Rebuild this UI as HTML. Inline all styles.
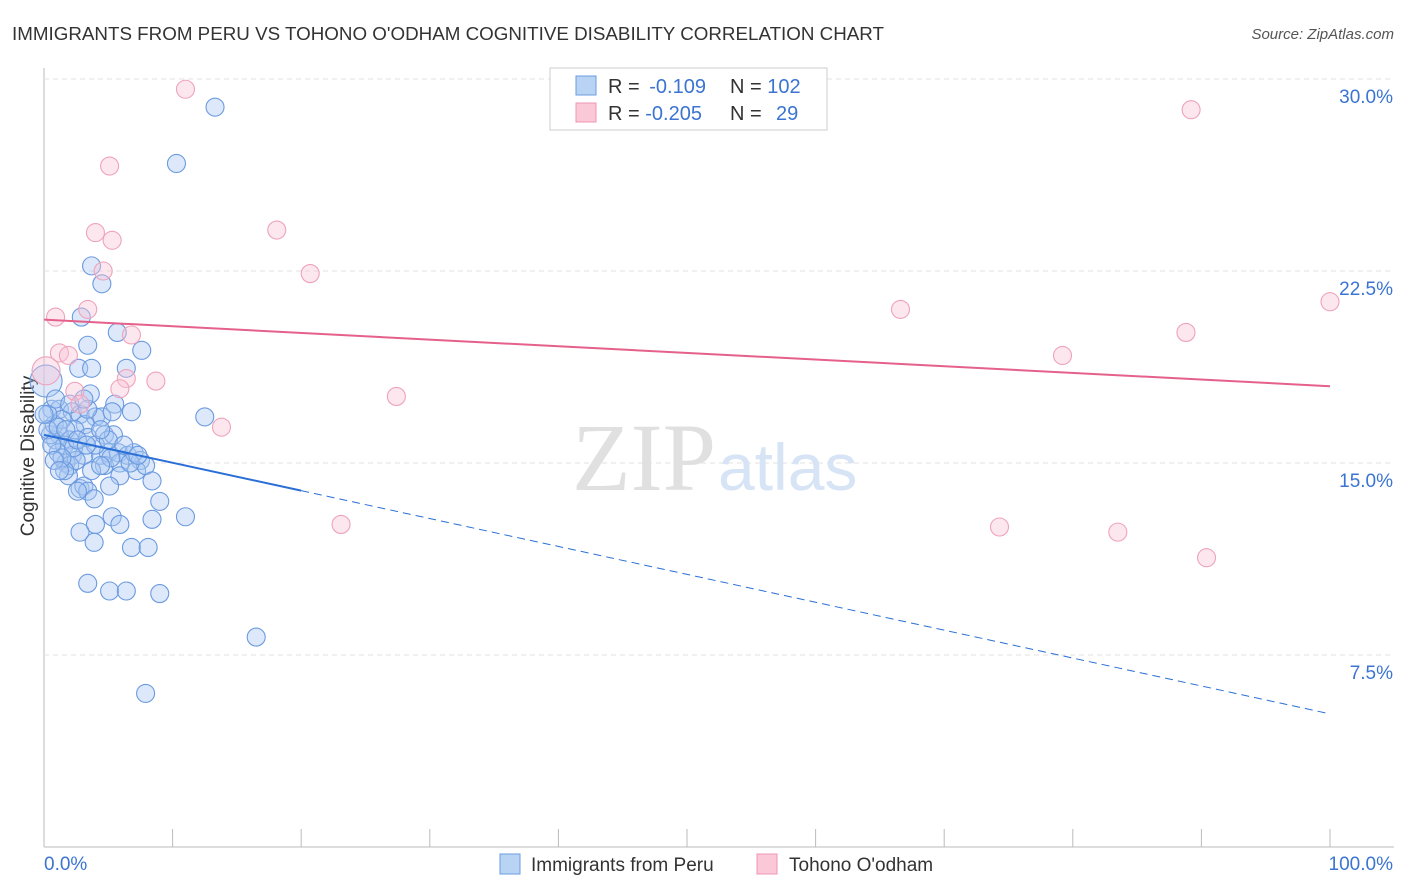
<!DOCTYPE html>
<html><head><meta charset="utf-8"><style>
body{margin:0;background:#fff;font-family:"Liberation Sans",sans-serif}
svg{display:block}
</style></head><body>
<svg id="chart" width="1406" height="892">
<text x="12" y="40" font-size="18" fill="#333" textLength="872" lengthAdjust="spacingAndGlyphs">IMMIGRANTS FROM PERU VS TOHONO O'ODHAM COGNITIVE DISABILITY CORRELATION CHART</text>
<text x="1394" y="39" font-size="15" fill="#555" text-anchor="end" font-style="italic">Source: ZipAtlas.com</text>
<text x="34" y="456" font-size="19" fill="#333" text-anchor="middle" transform="rotate(-90 34 456)">Cognitive Disability</text>
<g id="grid"></g>
<text x="716" y="490" font-size="96" fill="#e0e0e0" text-anchor="end" font-family="Liberation Serif,serif">ZIP</text>
<text x="718" y="490" font-size="66" fill="#d6e4f6">atlas</text>
<g id="marks"></g>
<g>
<rect x="550" y="68" width="277" height="62" fill="#fff" stroke="#ccc"/>
<rect x="576" y="76" width="20" height="19" fill="#b9d3f5" stroke="#6a9de0"/>
<rect x="576" y="103" width="20" height="19" fill="#fbc8d7" stroke="#ee96b0"/>
<text x="608" y="93" font-size="20" fill="#333">R = <tspan fill="#3b74d1">&#8201;-0.109</tspan><tspan x="730">N = </tspan><tspan fill="#3b74d1">102</tspan></text>
<text x="608" y="120" font-size="20" fill="#333">R = <tspan fill="#3b74d1">-0.205</tspan><tspan x="730">N = </tspan><tspan fill="#3b74d1" x="776">29</tspan></text>
</g>
<g>
<rect x="500" y="854" width="20" height="20" fill="#b9d3f5" stroke="#6a9de0"/>
<text x="531" y="871" font-size="19" fill="#333">Immigrants from Peru</text>
<rect x="757" y="854" width="20" height="20" fill="#fbc8d7" stroke="#ee96b0"/>
<text x="789" y="871" font-size="19" fill="#333">Tohono O'odham</text>
</g>
</svg>
<script>
const yTicks=[7.5,15,22.5,30];
const yTickLabels=["7.5%","15.0%","22.5%","30.0%"];
const xTickLabels=["0.0%","100.0%"];
const peruX=[13.3,10.3,3.7,4.5,2.9,5.7,3.4,7.6,2.7,3.7,6.4,3.6,5.5,6.8,12.5,0.16,0.6,1.2,2.2,2.8,4.0,4.5,3.2,2.4,1.2,0.9,2.0,3.4,4.7,5.4,1.6,1.1,2.2,3.1,4.4,5.0,5.8,6.5,7.0,7.5,1.7,2.0,4.7,5.9,7.2,7.9,1.9,8.4,5.9,5.1,2.8,3.1,3.4,2.6,3.9,9.0,11.0,5.3,8.4,4.0,5.9,2.8,3.9,6.8,8.1,3.4,5.1,6.4,9.0,16.5,7.9,0.5,0.8,1.4,0.3,0.9,5.3,3.4,2.5,4.0,5.0,1.6,6.7,0.3,0.6,1.1,1.7,2.3,4.4,3.7,5.2,7.3,2.0,3.1,1.4,0.8,2.6,3.3,4.4,6.2,1.2,0.0];
const peruY=[28.9,26.7,22.7,22.0,20.7,20.1,19.6,19.4,18.7,18.7,18.7,17.7,17.3,17.0,16.8,18.2,17.1,17.1,17.0,16.9,16.8,16.8,16.5,16.3,16.1,15.9,15.9,16.0,16.1,16.1,15.7,15.4,15.3,15.3,15.3,15.4,15.4,15.3,15.4,15.1,15.0,14.9,14.9,15.0,14.7,14.9,14.5,14.3,14.5,14.1,14.0,14.1,13.9,13.9,13.6,13.5,12.9,12.9,12.8,12.6,12.6,12.3,11.9,11.7,11.7,10.3,10.0,10.0,9.9,8.2,6.0,16.1,16.5,16.7,16.9,17.5,17.0,17.1,15.1,15.7,15.9,14.7,15.0,16.3,15.7,16.4,16.3,15.6,16.3,14.7,15.2,15.3,17.3,17.5,15.2,15.1,15.9,15.7,14.9,15.7,14.7,16.9];
const tohonoX=[11.0,5.1,4.0,5.3,18.1,4.6,20.7,3.4,0.9,6.8,1.2,1.9,8.7,6.4,5.9,2.4,2.8,27.4,13.8,23.1,0.16,66.6,89.2,100,79.2,88.8,74.3,83.5,90.4];
const tohonoY=[29.6,26.6,24.0,23.7,24.1,22.5,22.4,21.0,20.7,20.0,19.3,19.2,18.2,18.3,17.9,17.8,17.3,17.6,16.4,12.6,18.6,21.0,28.8,21.3,19.2,20.1,12.5,12.3,11.3];
const peruSize=[];peruSize[15]=16;
const tohonoSize=[];tohonoSize[20]=14;
const peruTrend=[16.1,5.2];
const tohonoTrend=[20.6,18.0];
const peruSolidEnd=20;

const NS="http://www.w3.org/2000/svg";
const X0=44,X1=1330,Y0=847,YK=25.6;
const sx=v=>X0+(X1-X0)*v/100, sy=v=>Y0-v*YK;
const grid=document.getElementById('grid'),marks=document.getElementById('marks'),svg=document.getElementById('chart');
function mk(t,a,p){const e=document.createElementNS(NS,t);for(const k in a)e.setAttribute(k,a[k]);(p||svg).appendChild(e);return e;}
let ax=mk('line',{x1:44,y1:68,x2:44,y2:847,stroke:'#bbb'},grid);


let bx=mk('line',{x1:44,y1:847,x2:1394,y2:847,stroke:'#bbb'},grid);


for(let i=0;i<=10;i++){const t=mk('line',{x1:sx(i*10),y1:829,x2:sx(i*10),y2:847,stroke:'#bbb'},grid);

}
yTicks.forEach((v,i)=>{const l=mk('line',{x1:44,y1:sy(v),x2:1394,y2:sy(v),stroke:'#e2e2e2','stroke-dasharray':'5,4'},grid);


const t=mk('text',{x:1393,y:sy(v)+24,'font-size':19,fill:'#3b74d1','text-anchor':'end'},grid);t.textContent=yTickLabels[i];

});
xTickLabels.forEach((s,i)=>{const t=mk('text',{x:i?1393:44,y:870,'font-size':19,fill:'#3b74d1','text-anchor':i?'end':'start'},grid);t.textContent=s;

});
peruX.forEach((x,i)=>{const c=mk('circle',{cx:sx(x),cy:sy(peruY[i]),r:peruSize[i]||9,fill:'rgba(170,200,242,0.4)',stroke:'#6b9ae0','stroke-width':1.1},marks);

});
tohonoX.forEach((x,i)=>{const c=mk('circle',{cx:sx(x),cy:sy(tohonoY[i]),r:tohonoSize[i]||9,fill:'rgba(250,195,214,0.4)',stroke:'#eea3bb','stroke-width':1.1},marks);

});
const pAt=x=>peruTrend[0]+(peruTrend[1]-peruTrend[0])*x/100;
let l1=mk('line',{x1:sx(0),y1:sy(pAt(0)),x2:sx(peruSolidEnd),y2:sy(pAt(peruSolidEnd)),stroke:'#2a6fd6','stroke-width':2},marks);


let l2=mk('line',{x1:sx(peruSolidEnd),y1:sy(pAt(peruSolidEnd)),x2:sx(100),y2:sy(pAt(100)),stroke:'#2a6fd6','stroke-width':1,'stroke-dasharray':'8,5'},marks);


let l3=mk('line',{x1:sx(0),y1:sy(tohonoTrend[0]),x2:sx(100),y2:sy(tohonoTrend[1]),stroke:'#e5608a','stroke-width':2},marks);


</script>
</body></html>
